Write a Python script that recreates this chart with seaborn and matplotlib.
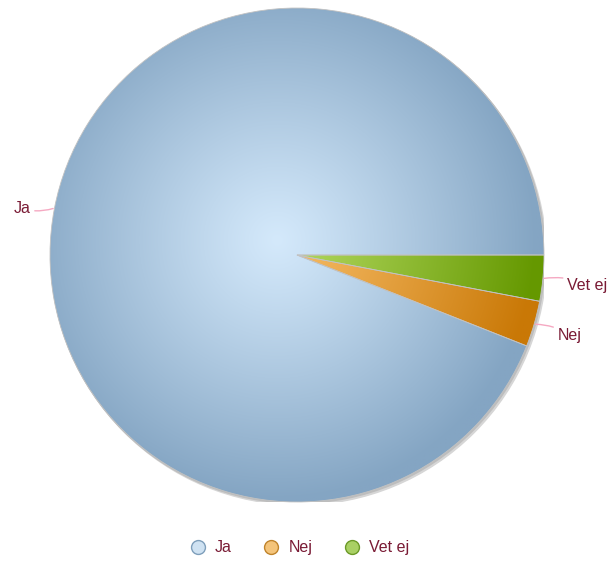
import numpy as np
import matplotlib
matplotlib.use("Agg")
import matplotlib.pyplot as plt
import seaborn as sns
from matplotlib.lines import Line2D
from matplotlib.patches import Circle

# --- Dados ---
labels = ["Ja", "Nej", "Vet ej"]
values = [94, 3, 3]

# cores (centro claro -> borda escura) para o gradiente radial
inner_colors = ["#d4e9fb", "#f7bd68", "#b4da62"]
outer_colors = ["#84a5c3", "#c97806", "#659800"]
legend_face = ["#cfe2f2", "#f4c47a", "#a9d064"]
legend_edge = ["#7f9fbb", "#c0842c", "#6c9a28"]
text_color = "#7a1b35"
line_color = "#f5a9c2"

sns.set_theme(style="white")
plt.rcParams["font.family"] = ["Liberation Sans", "DejaVu Sans"]

fig = plt.figure(figsize=(6.11, 5.63), dpi=100)
ax = fig.add_axes([50 / 611, 61 / 563, 494 / 611, 494 / 563])

# sombra leve
ax.add_patch(Circle((0.010, -0.012), 1.0, color="#d6d6d6", zorder=0))
ax.add_patch(Circle((0.004, -0.005), 1.0, color="#bdbdbd", zorder=0.5))

wedges, _ = ax.pie(values, startangle=0, counterclock=True, radius=1,
                   colors=inner_colors, wedgeprops=dict(linewidth=0))

# gradiente radial recortado por fatia
n = 500
xs = np.linspace(-1, 1, n)
X, Y = np.meshgrid(xs, xs)
dist = np.sqrt((X + 0.08) ** 2 + (Y - 0.06) ** 2)
t = np.clip(dist / 1.05, 0, 1) ** 1.1
for w, c0, c1 in zip(wedges, inner_colors, outer_colors):
    a = np.array(matplotlib.colors.to_rgb(c0))
    b = np.array(matplotlib.colors.to_rgb(c1))
    img = a[None, None, :] + (b - a)[None, None, :] * t[:, :, None]
    im = ax.imshow(img, extent=(-1, 1, -1, 1), origin="lower",
                   interpolation="bilinear", zorder=2)
    im.set_clip_path(w)

# bordas entre fatias
for w in wedges:
    w.set_edgecolor("#c2c2c2")
    w.set_linewidth(0.6)
    w.set_facecolor("none")
    w.set_zorder(3)

# rótulos com linhas de ligação
for w, lab in zip(wedges, labels):
    ang = np.deg2rad((w.theta1 + w.theta2) / 2)
    x0, y0 = np.cos(ang), np.sin(ang)
    xt, yt = 1.1 * x0, 1.1 * y0 - 0.018
    ha = "left" if x0 > 0 else "right"
    ax.annotate(lab, xy=(1.005 * x0, 1.005 * y0), xytext=(xt, yt),
                ha=ha, va="center", fontsize=11.5, color=text_color,
                annotation_clip=False,
                arrowprops=dict(arrowstyle="-", color=line_color, lw=1,
                                shrinkA=1, shrinkB=0,
                                connectionstyle="arc3,rad=0.15"))

ax.set_xlim(-1, 1)
ax.set_ylim(-1, 1)
ax.set_aspect("equal")
ax.axis("off")

handles = [Line2D([0], [0], marker="o", linestyle="none", markersize=10,
                  markerfacecolor=f, markeredgecolor=e, markeredgewidth=1)
           for f, e in zip(legend_face, legend_edge)]
leg = fig.legend(handles, labels, loc="center", bbox_to_anchor=(0.487, 0.027),
                 ncol=3, frameon=False, fontsize=11.5, handletextpad=0.35,
                 handlelength=1.5, columnspacing=1.7)
for txt in leg.get_texts():
    txt.set_color(text_color)

fig.savefig("out.png", dpi=100)
